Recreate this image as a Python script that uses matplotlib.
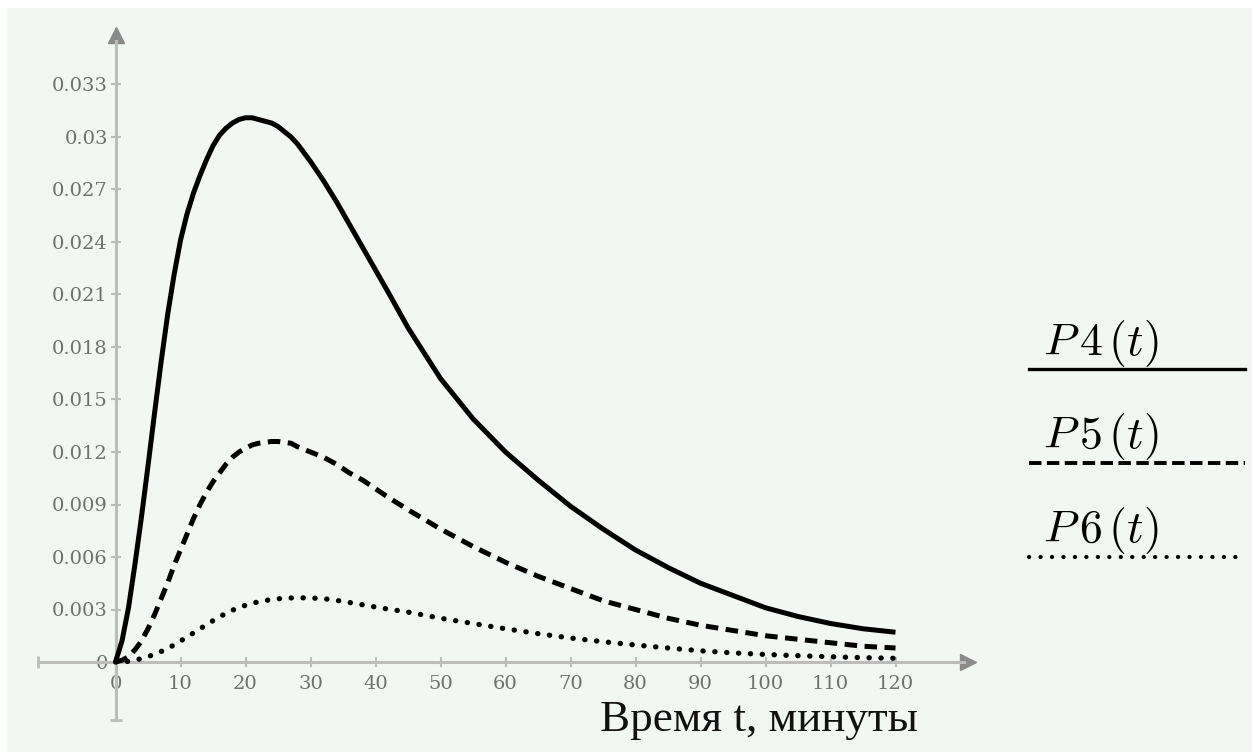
import matplotlib
matplotlib.use("Agg")
import matplotlib.pyplot as plt
from matplotlib.lines import Line2D
from matplotlib.patches import Rectangle

# Значения (время в минутах)
t = [0, 1, 2, 3, 4, 5, 6, 7, 8, 9, 10, 11, 12, 13, 14, 15, 16, 17, 18, 19,
     20, 21, 22, 23, 24, 25, 26, 27, 28, 30, 32, 34, 36, 38, 40, 42, 45, 50, 55,
     60, 65, 70, 75, 80, 85, 90, 95, 100, 105, 110, 115, 120]

p4 = [0, 0.0012, 0.0031, 0.0056, 0.0083, 0.0112, 0.0142, 0.0171, 0.0198, 0.0221,
      0.0241, 0.0256, 0.0268, 0.0278, 0.0287, 0.0295, 0.0301, 0.0305, 0.0308, 0.0310,
      0.0311, 0.0311, 0.0310, 0.0309, 0.0308, 0.0306, 0.0303, 0.0300, 0.0296, 0.0286,
      0.0275, 0.0263, 0.0250, 0.0237, 0.0224, 0.0211, 0.0191, 0.0162, 0.0139,
      0.0120, 0.0104, 0.0089, 0.0076, 0.0064, 0.0054, 0.0045, 0.0038, 0.0031,
      0.0026, 0.0022, 0.0019, 0.0017]

p5 = [0, 0.0001, 0.0003, 0.0007, 0.0012, 0.0019, 0.0027, 0.0036, 0.0045, 0.0055,
      0.0064, 0.0073, 0.0082, 0.0090, 0.0097, 0.0103, 0.0108, 0.0113, 0.0117, 0.0120,
      0.0122, 0.0124, 0.0125, 0.01255, 0.0126, 0.0126, 0.01255, 0.0125, 0.0123, 0.0120,
      0.0117, 0.0113, 0.0108, 0.0104, 0.0099, 0.0094, 0.0087, 0.0076, 0.0066,
      0.0057, 0.0049, 0.0042, 0.0035, 0.0030, 0.0025, 0.0021, 0.0018, 0.0015,
      0.0013, 0.0011, 0.0009, 0.0008]

p6 = [0, 0.00001, 0.00004, 0.0001, 0.0002, 0.0003, 0.00045, 0.0006, 0.00077, 0.00097,
      0.0012, 0.00143, 0.00166, 0.0019, 0.00213, 0.00236, 0.00258, 0.00278, 0.00296, 0.00311,
      0.00324, 0.00335, 0.00344, 0.00351, 0.00357, 0.00361, 0.00364, 0.00366, 0.00367, 0.00366,
      0.00362, 0.00352, 0.0034, 0.00327, 0.00314, 0.00302, 0.00285, 0.0025, 0.0022,
      0.0019, 0.00162, 0.00137, 0.00116, 0.00097, 0.0008, 0.00064, 0.00052, 0.00043,
      0.00036, 0.0003, 0.00025, 0.00021]

x_ticks = [0, 10, 20, 30, 40, 50, 60, 70, 80, 90, 100, 110, 120]
y_ticks = [0, 0.003, 0.006, 0.009, 0.012, 0.015, 0.018, 0.021, 0.024, 0.027, 0.03, 0.033]
y_tick_labels = ["0", "0.003", "0.006", "0.009", "0.012", "0.015", "0.018",
                 "0.021", "0.024", "0.027", "0.03", "0.033"]
legend_labels = [r"$P\,4\,(t)$", r"$P\,5\,(t)$", r"$P\,6\,(t)$"]
x_label = "Время t, минуты"

W, H = 1252, 752
BG = "#f3f7f4"
AXIS = "#bcbcbc"
TICKTXT = "#707070"

plt.rcParams["mathtext.fontset"] = "cm"


def fx(px):
    return px / W


def fy(py):
    return 1 - py / H


fig = plt.figure(figsize=(W / 100, H / 100), dpi=100)
fig.patch.set_facecolor("white")
fig.add_artist(Rectangle((fx(7), 0), 1, fy(8), transform=fig.transFigure,
                         facecolor=BG, edgecolor="none", zorder=-10))

# оси: x = 0 на 115.5 px, 6.5 px на минуту; y = 0 на 662 px, 17500 px на единицу
xmin, xmax = -13, 134
ymin, ymax = -0.0036, 0.037
left = 115.5 + 6.5 * xmin
right = 115.5 + 6.5 * xmax
bottom = 662 - 17500 * ymin
top = 662 - 17500 * ymax
ax = fig.add_axes([fx(left), fy(bottom), (right - left) / W, (bottom - top) / H])
ax.set_facecolor("none")
ax.set_xlim(xmin, xmax)
ax.set_ylim(ymin, ymax)

for side in ["top", "right"]:
    ax.spines[side].set_visible(False)
ax.spines["left"].set_position(("data", 0))
ax.spines["bottom"].set_position(("data", 0))
ax.spines["left"].set_bounds(-0.0033, 0.0355)
ax.spines["bottom"].set_bounds(-12, 130.5)
for side in ["left", "bottom"]:
    ax.spines[side].set_color(AXIS)
    ax.spines[side].set_linewidth(2.2)

# стрелки и концы осей
ax.plot([131.2], [0], marker=">", ms=12, color="#8a8a8a", clip_on=False, zorder=1)
ax.plot([0], [0.0358], marker="^", ms=12, color="#8a8a8a", clip_on=False, zorder=1)
ax.plot([-12], [0], marker="|", ms=8, mew=2, color=AXIS, clip_on=False)
ax.plot([0], [-0.0033], marker="_", ms=8, mew=2, color=AXIS, clip_on=False)

ax.set_xticks(x_ticks)
ax.set_yticks(y_ticks)
ax.set_yticklabels(y_tick_labels)
ax.tick_params(direction="inout", length=7, width=1.5, color=AXIS,
               labelcolor=TICKTXT, labelsize=14)
ax.tick_params(axis="x", pad=6)
ax.tick_params(axis="y", pad=2)
for lab in ax.get_xticklabels() + ax.get_yticklabels():
    lab.set_family("DejaVu Serif")

# кривые
ax.plot(t, p4, color="black", lw=3.6, solid_capstyle="butt", solid_joinstyle="round", zorder=3)
ax.plot(t, p5, color="black", lw=3.6, linestyle=(0, (2.5, 1.5)),
        dash_capstyle="butt", zorder=3)
ax.plot(t, p6, color="black", lw=3.8, linestyle=(0, (0.05, 2.2)),
        dash_capstyle="round", zorder=3)

fig.text(fx(918), fy(731), x_label, ha="right", va="baseline",
         family="Liberation Serif", fontsize=32.5, color="#111111")

# легенда справа
legend_styles = [
    dict(linestyle="-", lw=2.4),
    dict(linestyle=(0, (3.2, 1.4)), lw=2.8),
    dict(linestyle=(0, (0.05, 2.7)), lw=3.0, dash_capstyle="round"),
]
text_base = [355, 448, 542]
line_y = [369, 463, 557]
for lab, st, yb, yl in zip(legend_labels, legend_styles, text_base, line_y):
    fig.text(fx(1043), fy(yb), lab, ha="left", va="baseline",
             fontsize=33, color="black")
    fig.add_artist(Line2D([fx(1029), fx(1245)], [fy(yl), fy(yl)],
                          transform=fig.transFigure, color="black", **st))

fig.savefig("out.png", dpi=100, facecolor=fig.get_facecolor())
